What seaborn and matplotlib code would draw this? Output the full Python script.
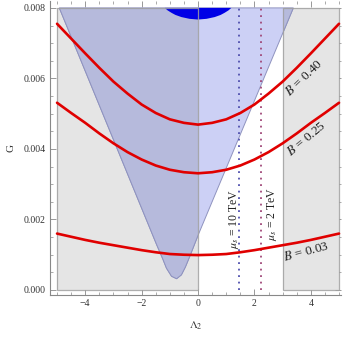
import numpy as np
import pandas as pd
import matplotlib
matplotlib.use("Agg")
import matplotlib.pyplot as plt
from matplotlib.ticker import MultipleLocator, FormatStrFormatter
import seaborn as sns

# ---------------- data ----------------
lam = [-5.0, -4.5, -4.0, -3.5, -3.0, -2.5, -2.0, -1.5, -1.0, -0.5, 0.0,
       0.5, 1.0, 1.5, 2.0, 2.5, 3.0, 3.5, 4.0, 4.5, 5.0]
G_B040 = [0.00755, 0.00713, 0.00671, 0.00630, 0.00591, 0.00557, 0.00526, 0.00502, 0.00484, 0.00474, 0.00469,
          0.00474, 0.00484, 0.00502, 0.00526, 0.00557, 0.00591, 0.00630, 0.00671, 0.00713, 0.00755]
G_B025 = [0.00531, 0.00502, 0.00474, 0.00444, 0.00416, 0.00391, 0.00370, 0.00353, 0.00341, 0.00334, 0.00331,
          0.00334, 0.00341, 0.00353, 0.00370, 0.00391, 0.00416, 0.00444, 0.00474, 0.00502, 0.00531]
G_B003 = [0.00160, 0.00151, 0.00142, 0.00134, 0.00127, 0.00120, 0.00113, 0.00107, 0.00102, 0.00100, 0.00099,
          0.00100, 0.00102, 0.00107, 0.00113, 0.00120, 0.00127, 0.00134, 0.00142, 0.00151, 0.00160]
B_labels = ["B = 0.40", "B = 0.25", "B = 0.03"]

# excluded (blue) region boundary
blue_lam = [-4.92, -1.47, -1.25, -1.12, -0.94, -0.76, -0.59, -0.45, -0.29, 0.0, 3.38]
blue_G = [0.0080, 0.00129, 0.00088, 0.00062, 0.00039, 0.00032, 0.00043, 0.00065, 0.00096, 0.00155, 0.0080]

# dark blue cap at the top
cap_lam = [-1.18, -1.08, -0.94, -0.8, -0.59, -0.3, 0.0, 0.3, 0.59, 0.8, 0.94, 1.08, 1.18]
cap_G = [0.00800, 0.00793, 0.00786, 0.00780, 0.00774, 0.00769, 0.00767,
         0.00769, 0.00774, 0.00780, 0.00786, 0.00793, 0.00800]

# grey bands (Lambda ranges)
grey_left = (-5.0, 0.0)
grey_right = (3.0, 5.0)
G_range = (0.0, 0.008)

# mu_s lines
mu_lam = [1.45, 2.22]
mu_labels = [r"$\mu_s$ = 10 TeV", r"$\mu_s$ = 2 TeV"]

# ---------------- styling ----------------
sns.set_style("ticks")
plt.rcParams["font.family"] = ["Liberation Serif", "DejaVu Serif"]
plt.rcParams["mathtext.fontset"] = "stix"

fig = plt.figure(figsize=(3.46, 3.38), dpi=100)
ax = fig.add_axes([50/346, 43/338, 291/346, 294.5/338])

grey_fc = "#e5e5e5"
grey_ec = "#a0a0a0"
rects = []
for (x0, x1) in (grey_left, grey_right):
    r = plt.Rectangle((x0, G_range[0]), x1 - x0, G_range[1] - G_range[0],
                      facecolor=grey_fc, edgecolor="none", zorder=1)
    ax.add_patch(r)
    rects.append(r)

# light blue region
ax.fill(blue_lam, blue_G, facecolor="#ccd0f5", edgecolor="#8f93bf", lw=0.7, zorder=2)
# darker where it overlaps the grey bands
for r in rects:
    p = ax.fill(blue_lam, blue_G, facecolor="#b6badc", edgecolor="#8f93bf", lw=0.7, zorder=2.1)[0]
    p.set_clip_path(r)

# dark blue cap
ax.fill(cap_lam, cap_G, facecolor="#0000e6", edgecolor="none", zorder=2.5)

# grey band outlines
for (x0, x1) in (grey_left, grey_right):
    ax.add_patch(plt.Rectangle((x0, G_range[0]), x1 - x0, G_range[1] - G_range[0],
                               facecolor="none", edgecolor=grey_ec, lw=0.9, alpha=0.85, zorder=3))

# mu_s dotted lines
ax.vlines(mu_lam[0], G_range[0], G_range[1], colors="#4f4fae", linestyles=(0, (1, 2.6)), lw=1.3, zorder=3.5)
ax.vlines(mu_lam[1], G_range[0], G_range[1], colors="#a04878", linestyles=(0, (1, 2.6)), lw=1.3, zorder=3.5)

# red curves via seaborn
df = pd.DataFrame({
    "lam": lam * 3,
    "G": G_B040 + G_B025 + G_B003,
    "B": [B_labels[0]] * len(lam) + [B_labels[1]] * len(lam) + [B_labels[2]] * len(lam),
})
sns.lineplot(data=df, x="lam", y="G", hue="B", palette=["#e00000"] * 3, legend=False,
             estimator=None, sort=False, lw=1.9, ax=ax, zorder=4)

# curve labels
ax.text(3.77, 0.00603, r"$B$ = 0.40", rotation=44, ha="center", va="center", fontsize=9.5, color="#222222", zorder=5)
ax.text(3.83, 0.00429, r"$B$ = 0.25", rotation=40, ha="center", va="center", fontsize=9.5, color="#222222", zorder=5)
ax.text(3.85, 0.00110, r"$B$ = 0.03", rotation=15, ha="center", va="center", fontsize=9.5, color="#222222", zorder=5)
ax.text(1.27, 0.00202, mu_labels[0], rotation=90, ha="center", va="center", fontsize=8.5, color="#222222", zorder=5)
ax.text(2.61, 0.00216, mu_labels[1], rotation=90, ha="center", va="center", fontsize=8.5, color="#222222", zorder=5)

# axes
ax.set_xlim(-5.25, 5.07)
ax.set_ylim(-0.000142, 0.00821)
ax.xaxis.set_major_locator(MultipleLocator(2))
ax.xaxis.set_minor_locator(MultipleLocator(0.5))
ax.yaxis.set_major_locator(MultipleLocator(0.002))
ax.yaxis.set_minor_locator(MultipleLocator(0.0005))
ax.yaxis.set_major_formatter(FormatStrFormatter("%.3f"))
ax.tick_params(which="both", direction="in", top=True, right=True, color="#888888",
               labelsize=7, labelcolor="#333333", pad=3)
ax.tick_params(which="major", length=4, width=0.6)
ax.tick_params(which="minor", length=2.5, width=0.5)
for s in ("top", "right"):
    ax.spines[s].set_visible(False)
for s in ("left", "bottom"):
    ax.spines[s].set_color("#888888")
    ax.spines[s].set_linewidth(0.8)

ax.set_xlabel(r"$\Lambda_2$", fontsize=8, color="#333333", labelpad=8)
ax.set_ylabel("G", fontsize=8, color="#333333", labelpad=6)

fig.savefig("out.png", dpi=100)
